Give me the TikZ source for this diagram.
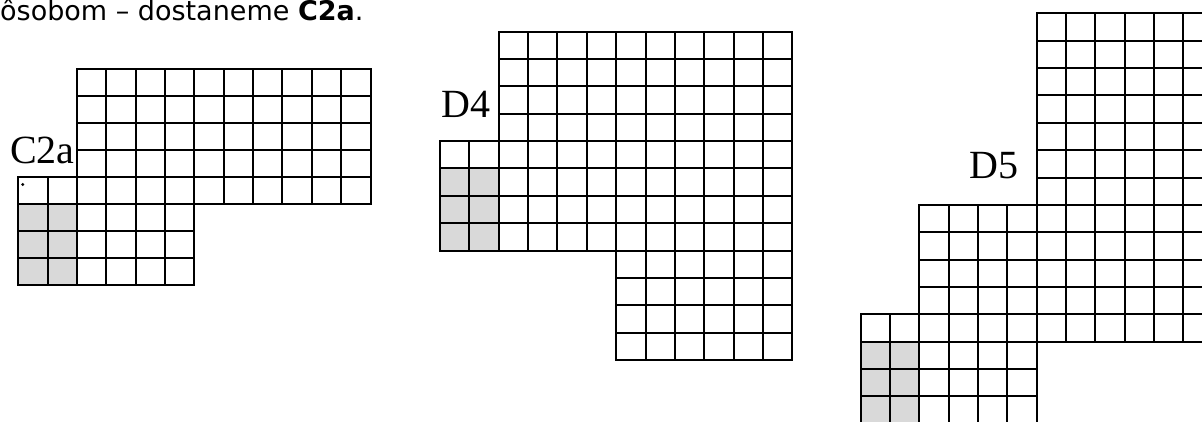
\documentclass[tikz,border=0pt]{standalone}
\usepackage{fontspec}
\setmainfont{Liberation Serif}
\newfontfamily\textsans{DejaVu Sans}

\tikzset{
  cellline/.style={draw=black, line width=2pt},
  grayfill/.style={fill=black!15},
  figlabel/.style={inner sep=0pt, anchor=base west, font=\fontsize{40}{40}\selectfont},
}

% block of squares: first column, first row, columns, rows
\newcommand{\cellblock}[4]{%
  \foreach \i in {1,...,#3}{
    \foreach \j in {1,...,#4}{
      \draw[cellline] ({#1+\i-1},{#2+\j-1}) rectangle ++(1,1);
    }
  }%
}

\begin{document}
\begin{tikzpicture}[x=1pt,y=-1pt]
\useasboundingbox (0,0) rectangle (1202,422);
\clip (0,0) rectangle (1202,422);

\node[inner sep=0pt, anchor=base west, font=\textsans\fontsize{27}{27}\selectfont] (sentence) at (0,20.5) {ôsobom – dostaneme \textbf{C2a}.};

% C2a
\begin{scope}[xshift=18.3pt, yshift=-69.3pt, x=29.35pt, y=-27pt]
\fill[grayfill] (0,5) rectangle (2,8);
\cellblock{2}{0}{10}{5}
\cellblock{0}{4}{2}{1}
\cellblock{0}{5}{6}{3}
\end{scope}
\fill (22.8,184.5) circle (1.6);
\node[figlabel] (c2a) at (10,163.3) {C2a};

% D4
\begin{scope}[xshift=440pt, yshift=-31.7pt, x=29.36pt, y=-27.36pt]
\fill[grayfill] (0,5) rectangle (2,8);
\cellblock{2}{0}{10}{4}
\cellblock{0}{4}{12}{4}
\cellblock{6}{8}{6}{4}
\end{scope}
\node[figlabel] (d4) at (441.7,117.7) {D4};

% D5
\begin{scope}[xshift=860.7pt, yshift=-13.3pt, x=29.33pt, y=-27.37pt]
\fill[grayfill] (0,12) rectangle (2,16);
\cellblock{6}{0}{6}{12}
\cellblock{2}{7}{4}{5}
\cellblock{0}{11}{2}{1}
\cellblock{0}{12}{6}{4}
\end{scope}
\node[figlabel] (d5) at (969,179) {D5};
\end{tikzpicture}
\end{document}
